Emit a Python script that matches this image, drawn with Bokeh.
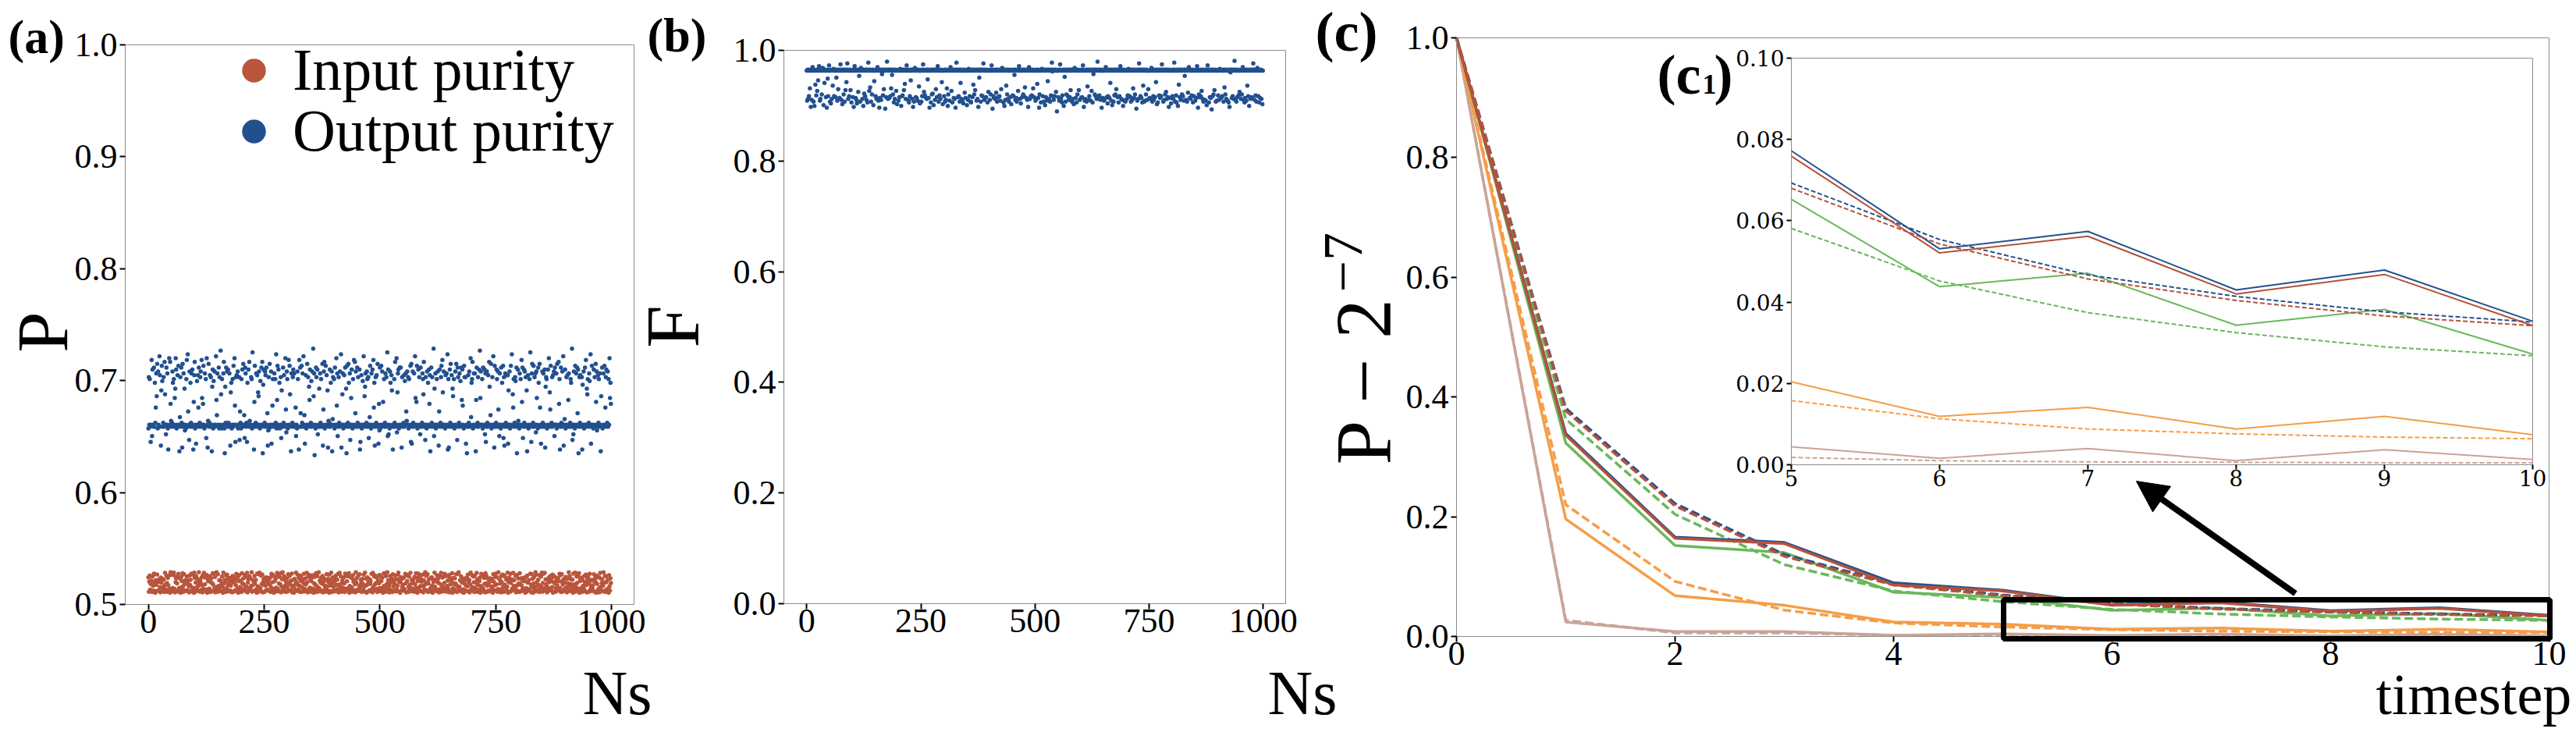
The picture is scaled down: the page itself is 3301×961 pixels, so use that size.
import math
from bokeh.plotting import figure
from bokeh.models import (Range1d, LinearAxis, FixedTicker, NumeralTickFormatter,
                          Label, Legend, LegendItem, Arrow, NormalHead, BoxAnnotation)
from bokeh.embed import file_html
from bokeh.resources import INLINE

# ------------------------------------------------------------------ data
# Scatter values are hand-estimated from the picture and stored compactly:
# each character is one sample, value = base + step * CODE_CHARS.index(char)
CODE_CHARS = "0123456789ABCDEFGHIJKLMNOPQRSTUVWXYZabcdefghijklmnopqrstuvwxyz"

INPUT_PURITY_BASE, INPUT_PURITY_STEP = 0.5105, 0.0003
INPUT_PURITY_CODES = """
k3Xp9QaZ2m L7vRt0bN5s YcW8eH1jU4 fG6dK2xP9o T3iM7qB0zA r5Ew8yC1nV g4Sj6uD2hF 0lZ9wJ3tQ7 bX5mR8aK1p Nc4vG7sE0y
i2Uo9Hf6Lz W3dT8kM1qB x7Pj5Ar0gY e9Cn2Vh4Sw Ou6Fl1Dz8I t3Kb7Ga5Qm J0yR9cX2pE s8Nf4Wi6Lh Z1oV3jT7dM u5Bk0Yq9Ha
C2wS6gP8rF l4Ix1Ue7nD h9Kz3Mb5Xo R6cA0vJ2tG y8Ep4Qs1Wf N3iL7kZ9Ta d5Oj2Hu6Vr B0mY8gF4xC q7Sl3Pw1Ie z9Dn5Kb2Uh
G4tR6oX8aM v1Jc0Ef7Qy W5sN9iL3pZ k2Hd8Tu4Bg O6xV1mA9rF e3Yj7Cq0Sl P8wK2nG5zD a4Ui6Ro1Xh M9bE3tJ7fV s0Lc5yQ2kW
I7gZ4pN8dB u1Ox9Hm3Ta F5jS2vC6rY n8Ew0Kl4Gi D3qX7bP1zU h6Ao5Mt9Jc V2fR8sI4yL g0Nk3Wd7eQ Z5uB1xH6mO p9Tj2Ca8Sr
E4lY6iF0vK w7Gn3Qz5bD M1oU8hX2tJ c6Rp4Ae9Ls y3Wf0Vk7Ig N8jB5uS1qZ r2Hm9Ox4Dd T6aC3lP7wE i0Yv8Gn5Kf X4sJ1bM9zQ
o7Ut2Re6Ah F3kL0cW8yI d5Zq9Vg1Sp B2xN6jH4mT u8Eo3Ka7Cr l1Pf5Yw0Di Q9hS4tM2vG z6Ib8nX3Ue A0gR7dL5kJ s4Wc1Oy9Bq
H7mV2pF6Tx e3Na9Zj0Ku C5rD8iQ1wS o2Lg6Ub4hY J9fE0tX7Ml v6Pk3Bz5Ac R1nW8sH2qO m4Gd7Iy0Vj Z3uT5eC9xK b8Fo1Lr6Ng
S2wQ4hM7aD i5Yj0kE3pU X9cB6vO1tH f0Rl8Gz4sW K7dN2qA5mI y3Tu9Cx6eP L1bF5jV8oZ g6Hs0Wn2Rk D4aM7iY9uE q2Xt3Oc5Bh
U8lG1fS6zJ n5Qe9Kd0vA P3yI7mT4rC w0Zh6Ej2bL F9oV4sN1gX k2Ru8aH5cD M6tY3iW0pQ j7Bl1Gx9fS e4Kz5Uo2nV A8dC0qJ6hT
"""

OUTPUT_PURITY_BASE, OUTPUT_PURITY_STEP = 0.630, 0.0017
OUTPUT_PURITY_CODES = """
GhIgH9IqCl IHmHeJRjXo GkIHsiH7an fHJhHpYIDm IjG5HrIpTK HJkeHgIWbr lGIiHnI4Mh HmJ6oHjIbF IGgqHtPIAk HeJjHlI5Ui
pGI8HfIiRm HJhkHqWITn IGjHgBrI6K oHJiHhI4cl GfIkHIsVNj IHmGhIvYGg HIjpG3cJmI kHlJHjI7Ze GIgHnIrS9h IiHkGIhAPJ
GgIlHoINBm jHJ9eIlHpK HIhgGuHI5U nHJjHiIZXk IGfHmIp3dl HJkiHmIO7F hGoIHk8ISg HIjHgJtGVn IlHeGIhBaH HmJiHIrQEk
gGIqHnYI4j HJhlHjIHRC IGkgH5qHmO HnJjHsIN8H iGIoHhIcVl HJfHkIwXj2 IGmhHlDIHb HjJgHIo7Qk pGInHiIa6K HJlHeIk4Lh
IgGmHIrSjC HhJHkIt6IY jGIiHmIb3n HJoeHjAIWl IGgHqIpOkH HmJhHIl59I iGIfHsIXcj HJkgHhBIMn IGjHlIqRe7 HhJiHoI8TF
mGInHkIUIg HJjHhIuClD IGkeHiaI5H HgJpHIrEZj lGImHmI6hI HJiHfIjPKk IhGgHIn9o8 HkJHjIsWIU nGIlHhIDmH HJjgYpHIAh
IGkHeIlTi4 HmJhHIwCbI jGIgHkI7Pl HJhnHqZIkH IGiHjIt5g6 HlJoHiIbXH gGIkHoIAmh HJjHfImVlS IGnhHh8I3H HiJkHIrMeg
pGIjHjI4Vm HJhHlIvWkI IgGmHIlDj9 HkJHiIpcIN oGIhHsI6nH HJlgHkQICj IGmHeInBh7 HjJiHIi8aI kGInHtIYRg HJhfHm3IlK
IGjHgIqUmB HlJkHhIa4H iGIgHuI9jo HJnHhIjEkW IGmeHoRI8H HkJjHIl6ch gGIlHrIZQn HJhHiIkCmI IjGoHIpTg5 HmJHkIs7IL
lGIhHiIVjH HJgeHwAIDk IGnHjImOl3 HhJiHIh5dI kGImHqIbYg HJjfHt8InH IGlHhIoUkF HiJgHjI4XH mGIjHnIRhl HJkHgIrWeT
"""

FIDELITY_BASE, FIDELITY_STEP = 0.885, 0.0016
FIDELITY_CODES = """
nFoHnKoTn8 oGnrnEo9nX nLoQncnsoF HnoMnqoAnZ onJn7oeKnt nEoCnHoWnp KnoJnfoFnS noInuoGnBo nMoEnRoanv oHnKnoRnDn
nJo8nsoInG CnoPnhoEnq onHn9oNnKo nGoDnwoQnU oEnMnoAnbn nKoHnroFn7 InoGnjoLnS no6nJoxnHo nIoKnToinM oDnHnoQnBn
nFoJnpo9nK LnoRnYoHnt onGnDoKnco nHo8nEoqnJ oInFnoVnCn nEoKnuoPnL JnoHndoIn7 noDnMoNnAo nGoSnJosnE oLnHnoanBn
nKoEnGoTn9 MnoFnroQnD onInHo7nwo nJoKnEoZnH oFnCnoOnIn nAoGnpoKnE DnoJnXoMnR noFnHo8nfo nEoLnKovnG oInJnoDnPn
nGoMnto6nK InoHnOoEnJ onKnFoSnqo nDo9nGoWnM oHnEnoJnBn nLoKnioGnI EnoQnsoHnC noJnMoKnUo nIoGn8ornH oKnLnoTnJn
nFoHnYoIn7 MnoDnpoKnE onAnJoFnbo nHoEnLowmK oGnKnoPn3n nJoFnuoHnD Lno9ngoEnM noKnGoJnRo nEoHnBoqnI oDnMnoRnGn
nIoJnto8nF HnoEnVoGnK onFnQoDnjo nMoKnHoxnJ oLnGno7nIn nFoHnroJnC KnoInZoFnA noEnLoMnSo nJoDnKosnH oGn9noFnEn
nHoLnpoKnJ EnoGnToInM on6nFoHnvo nKoInDoWnE oFnMnoGnSn nInHnqoEnK GnoJnaoBnD noLnIoKnuo nEoGnMoPnH oJn8noInCn
nKoHnwoEnL Dno9nXoJnG onMnKoFnho nGoEnOornI oHnLnoDnKn nFoInso7nM JnoKnQoHnE noGnFoAnto nDoJnIo5nK oMnRnoEnFn
nLoGnpoInJ KnoEnUoMnH onFnDo8nlo nIoKnHoynG oEnJnoLnPn nHoMnroGnD InoFnWoKn9 noHnJoInvo nGoLnEoqnK oDnInoHnBn
"""

# panel (c): P - 2^-7 versus timestep
TIMESTEP = [0, 1, 2, 3, 4, 5, 6, 7, 8, 9, 10]
BLUE_SOLID = [1.0, 0.339, 0.166, 0.157, 0.0895, 0.0772, 0.0531, 0.0574, 0.0430, 0.0479, 0.0353]
BLUE_DASHED = [1.0, 0.381, 0.222, 0.137, 0.0880, 0.0693, 0.0554, 0.0467, 0.0414, 0.0376, 0.0351]
RED_SOLID = [1.0, 0.336, 0.164, 0.155, 0.0860, 0.0759, 0.0521, 0.0562, 0.0420, 0.0468, 0.0342]
RED_DASHED = [1.0, 0.377, 0.218, 0.134, 0.0860, 0.0680, 0.0543, 0.0457, 0.0404, 0.0366, 0.0342]
GREEN_SOLID = [1.0, 0.323, 0.152, 0.140, 0.0740, 0.0653, 0.0438, 0.0471, 0.0343, 0.0382, 0.0272]
GREEN_DASHED = [1.0, 0.363, 0.204, 0.120, 0.0760, 0.0581, 0.0452, 0.0374, 0.0325, 0.0290, 0.0268]
ORANGE_SOLID = [1.0, 0.196, 0.068, 0.052, 0.0240, 0.0204, 0.0119, 0.0141, 0.0088, 0.0119, 0.0074]
ORANGE_DASHED = [1.0, 0.220, 0.092, 0.044, 0.0224, 0.0158, 0.0113, 0.0088, 0.0076, 0.0068, 0.0064]
PINK_SOLID = [1.0, 0.024, 0.008, 0.008, 0.0020, 0.0044, 0.0016, 0.0040, 0.0010, 0.0037, 0.0013]
PINK_DASHED = [1.0, 0.027, 0.006, 0.006, 0.0020, 0.0018, 0.0010, 0.0007, 0.0006, 0.0005, 0.0005]

NS_TICKS = [0, 250, 500, 750, 1000]
P_TICKS = [0.5, 0.6, 0.7, 0.8, 0.9, 1.0]
F_TICKS = [0.0, 0.2, 0.4, 0.6, 0.8, 1.0]
T_TICKS = [0, 2, 4, 6, 8, 10]
INSET_X_TICKS = [5, 6, 7, 8, 9, 10]
INSET_Y_TICKS = [0.0, 0.02, 0.04, 0.06, 0.08, 0.10]
INSET_X_LIM = (5, 10)
INSET_Y_LIM = (0.0, 0.10)


def decode(codes, base, step):
    return [base + step * CODE_CHARS.index(c) for c in "".join(codes.split())]


input_purity = decode(INPUT_PURITY_CODES, INPUT_PURITY_BASE, INPUT_PURITY_STEP)
output_purity = decode(OUTPUT_PURITY_CODES, OUTPUT_PURITY_BASE, OUTPUT_PURITY_STEP)
fidelity = decode(FIDELITY_CODES, FIDELITY_BASE, FIDELITY_STEP)

# ------------------------------------------------------------------ style / layout
SERIF = "Liberation Serif"
TICK_FONT = "44px"
GREY = "#8c8c8c"
C_IN = "#b9553c"
C_OUT = "#22508e"
C_BLUE = "#24528f"
C_RED = "#b5513b"
C_GREEN = "#6ab85c"
C_ORANGE = "#f59d47"
C_PINK = "#c9a497"
DOT = 5.5

W, H = 3300, 960
NS_RANGE = (-49.95, 1048.95)
MID = 0.34   # em offset from the alphabetic baseline to the middle of the text box

# panel frames in canvas pixels: (left, right, top, bottom), plus data ranges
PANELS = {
    "a": ((160, 812, 57, 774), NS_RANGE, (0.5, 1.0)),
    "b": ((1004, 1647, 64, 773), NS_RANGE, (0.0, 1.0)),
    "c": ((1866, 3266, 48, 815), (0, 10), (0.0, 1.0)),
    "c1": ((2295, 3245, 74, 595), INSET_X_LIM, INSET_Y_LIM),
}

p = figure(width=W, height=H, x_range=Range1d(0, W), y_range=Range1d(H, 0),
           x_axis_location=None, y_axis_location=None, min_border=0, title=None,
           toolbar_location=None, output_backend="svg")
p.outline_line_color = None
p.background_fill_color = "white"
p.border_fill_color = "white"
p.xgrid.grid_line_color = None
p.ygrid.grid_line_color = None

xr_extra, yr_extra = {}, {}
for name, ((l, r, t, b), xr, yr) in PANELS.items():
    kx = (xr[1] - xr[0]) / (r - l)
    ky = (yr[1] - yr[0]) / (b - t)
    xr_extra[name] = Range1d(xr[0] - l * kx, xr[1] + (W - r) * kx)
    yr_extra[name] = Range1d(yr[0] - (H - b) * ky, yr[1] + t * ky)
p.extra_x_ranges = xr_extra
p.extra_y_ranges = yr_extra


def to_data(name, px, py):
    (l, r, t, b), xr, yr = PANELS[name]
    return (xr[0] + (px - l) / (r - l) * (xr[1] - xr[0]),
            yr[0] + (b - py) / (b - t) * (yr[1] - yr[0]))


def style_axis(ax, font, size, tick_out, standoff):
    ax.axis_line_color = GREY
    ax.axis_line_width = 1
    ax.major_tick_line_color = "black"
    ax.major_tick_line_width = 2
    ax.major_tick_out = tick_out
    ax.major_tick_in = 0
    ax.minor_tick_line_color = None
    ax.major_label_text_font = font
    ax.major_label_text_font_size = size
    ax.major_label_text_color = "black"
    ax.major_label_standoff = standoff


def add_frame(name, xticks, yticks, yfmt, font=SERIF, size=TICK_FONT, tick_out=7, fill=None):
    _, xr, yr = PANELS[name]
    p.quad(left=[xr[0]], right=[xr[1]], bottom=[yr[0]], top=[yr[1]], x_range_name=name,
           y_range_name=name, fill_color=fill, line_color=GREY, line_width=1)
    ya = LinearAxis(x_range_name=name, y_range_name=name, fixed_location=xr[0], bounds=yr,
                    ticker=FixedTicker(ticks=yticks), formatter=NumeralTickFormatter(format=yfmt))
    style_axis(ya, font, size, tick_out, 3)
    p.add_layout(ya, "left")
    xa = LinearAxis(x_range_name=name, y_range_name=name, fixed_location=yr[0], bounds=xr,
                    ticker=FixedTicker(ticks=xticks), formatter=NumeralTickFormatter(format="0"))
    style_axis(xa, font, size, tick_out, 0)
    p.add_layout(xa, "below")


def add_text(px, py, text, size, bold=False, rotated=False, align="left", font=SERIF):
    """(px, py) is the point on the alphabetic baseline where the text is anchored."""
    if rotated:
        x, y, angle = px - MID * size, py, math.pi / 2
    else:
        x, y, angle = px, py - MID * size, 0.0
    p.add_layout(Label(x=x, y=y, text=text, text_font=font,
                       text_font_size=f"{size}px", text_font_style="bold" if bold else "normal",
                       angle=angle, text_align=align, text_baseline="middle",
                       text_color="black"))


# ------------------------------------------------------------------ panel (a)
add_frame("a", NS_TICKS, P_TICKS, "0.0")
r_in = p.scatter(x=list(range(len(input_purity))), y=input_purity, size=DOT, x_range_name="a",
                 y_range_name="a", fill_color=C_IN, line_color=None)
r_out = p.scatter(x=list(range(len(output_purity))), y=output_purity, size=DOT, x_range_name="a",
                  y_range_name="a", fill_color=C_OUT, line_color=None)

for rend, lab, (lx, lbottom) in ((r_in, "Input purity", (287, 133)),
                                 (r_out, "Output purity", (287, 211))):
    leg = Legend(items=[LegendItem(label=lab, renderers=[rend])],
                 location=(lx, H - lbottom),
                 glyph_width=76, glyph_height=76, label_standoff=12,
                 label_text_font=SERIF, label_text_font_size="76px", label_text_color="black",
                 padding=0, margin=0, spacing=0, border_line_color=None,
                 background_fill_alpha=0)
    p.add_layout(leg)

add_text(10, 68, "(a)", 62, bold=True)
add_text(85, 425, "P", 94, rotated=True, align="center")
add_text(746, 915, "Ns", 80)

# ------------------------------------------------------------------ panel (b)
add_frame("b", NS_TICKS, F_TICKS, "0.0")
p.scatter(x=list(range(len(fidelity))), y=fidelity, size=DOT, x_range_name="b", y_range_name="b",
          fill_color=C_OUT, line_color=None)
add_text(829, 66, "(b)", 62, bold=True)
add_text(895, 418, "F", 98, rotated=True, align="center")
add_text(1624, 915, "Ns", 80)

# ------------------------------------------------------------------ panel (c)
SERIES = [
    (PINK_SOLID, C_PINK, "solid"), (PINK_DASHED, C_PINK, "dashed"),
    (ORANGE_SOLID, C_ORANGE, "solid"), (ORANGE_DASHED, C_ORANGE, "dashed"),
    (GREEN_SOLID, C_GREEN, "solid"), (GREEN_DASHED, C_GREEN, "dashed"),
    (BLUE_SOLID, C_BLUE, "solid"), (BLUE_DASHED, C_BLUE, "dashed"),
    (RED_SOLID, C_RED, "solid"), (RED_DASHED, C_RED, "dashed"),
]
add_frame("c", T_TICKS, F_TICKS, "0.0")
for ys, col, dash in SERIES:
    p.line(TIMESTEP, ys, x_range_name="c", y_range_name="c", line_color=col, line_width=3.5,
           line_dash="solid" if dash == "solid" else "11 5")

# inset (c1)
add_frame("c1", INSET_X_TICKS, INSET_Y_TICKS, "0.00", font="DejaVu Serif", size="28px",
          tick_out=6, fill="white")
i0 = TIMESTEP.index(INSET_X_LIM[0])
for ys, col, dash in SERIES:
    p.line(TIMESTEP[i0:], ys[i0:], x_range_name="c1", y_range_name="c1",
           line_color=col, line_width=2, line_dash="solid" if dash == "solid" else "6 3")

# zoom box and arrow
bx0, by1 = to_data("c", 2567, 768)
bx1, by0 = to_data("c", 3267, 818)
p.add_layout(BoxAnnotation(left=bx0, right=bx1, bottom=by0, top=by1, x_range_name="c",
                           y_range_name="c", fill_alpha=0, line_color="black",
                           line_width=7, line_alpha=1))
ax0, ay0 = to_data("c", 2941, 760)
ax1, ay1 = to_data("c", 2737, 616)
p.add_layout(Arrow(x_start=ax0, y_start=ay0, x_end=ax1, y_end=ay1, x_range_name="c",
                   y_range_name="c", line_width=8, line_color="black",
                   end=NormalHead(size=40, fill_color="black", line_color="black", line_width=1)))

add_text(1685, 65, "(c)", 72, bold=True)
add_text(1782, 595, "P \u2212 2", 102, rotated=True)
add_text(1745, 374, "\u22127", 72, rotated=True)
add_text(3044, 915, "timestep", 74)
add_text(2123, 120, "(c", 72, bold=True)
add_text(2181, 120, "1", 36, bold=True)
add_text(2196, 120, ")", 72, bold=True)

open("out.html", "w").write(file_html(p, INLINE))
